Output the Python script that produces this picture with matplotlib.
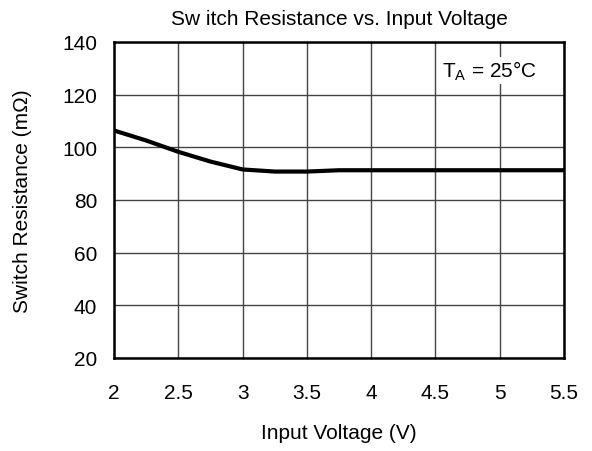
import matplotlib.pyplot as plt

plt.rcParams['font.family'] = ['Liberation Sans', 'DejaVu Sans']

# data
voltage = [2.0, 2.25, 2.5, 2.75, 3.0, 3.25, 3.5, 3.75, 4.0, 4.5, 5.0, 5.5]
resistance = [106.4, 102.6, 98.3, 94.6, 91.6, 90.8, 90.8, 91.3, 91.3, 91.3, 91.3, 91.3]
x_ticks = [2, 2.5, 3, 3.5, 4, 4.5, 5, 5.5]
y_ticks = [20, 40, 60, 80, 100, 120, 140]

fig = plt.figure(figsize=(5.92, 4.52), dpi=100)
ax = fig.add_axes([114 / 592, 1 - 359 / 452, 450 / 592, 316 / 452])

ax.plot(voltage, resistance, color='black', linewidth=3, solid_capstyle='butt')

ax.set_xlim(2, 5.5)
ax.set_ylim(20, 140)
ax.set_xticks(x_ticks)
ax.set_xticklabels([f"{t:g}" for t in x_ticks])
ax.set_yticks(y_ticks)
ax.grid(True, color='#444444', linewidth=1)
ax.tick_params(length=0, labelsize=15)
ax.tick_params(axis='x', pad=18)
ax.tick_params(axis='y', pad=12)
for s in ax.spines.values():
    s.set_linewidth(1.8)

ax.set_title("Sw itch Resistance vs. Input Voltage", fontsize=15, pad=13)
ax.set_xlabel("Input Voltage (V)", fontsize=15, labelpad=15)
ax.set_ylabel("Switch Resistance (m\u03a9)", fontsize=15, labelpad=22)

ax.text(0.94, 0.91, "T$_\\mathregular{A}$ = 25\u00b0C", transform=ax.transAxes,
        ha='right', va='center', fontsize=15,
        bbox=dict(facecolor='white', edgecolor='none', pad=1))

fig.savefig("out.png", dpi=100)
